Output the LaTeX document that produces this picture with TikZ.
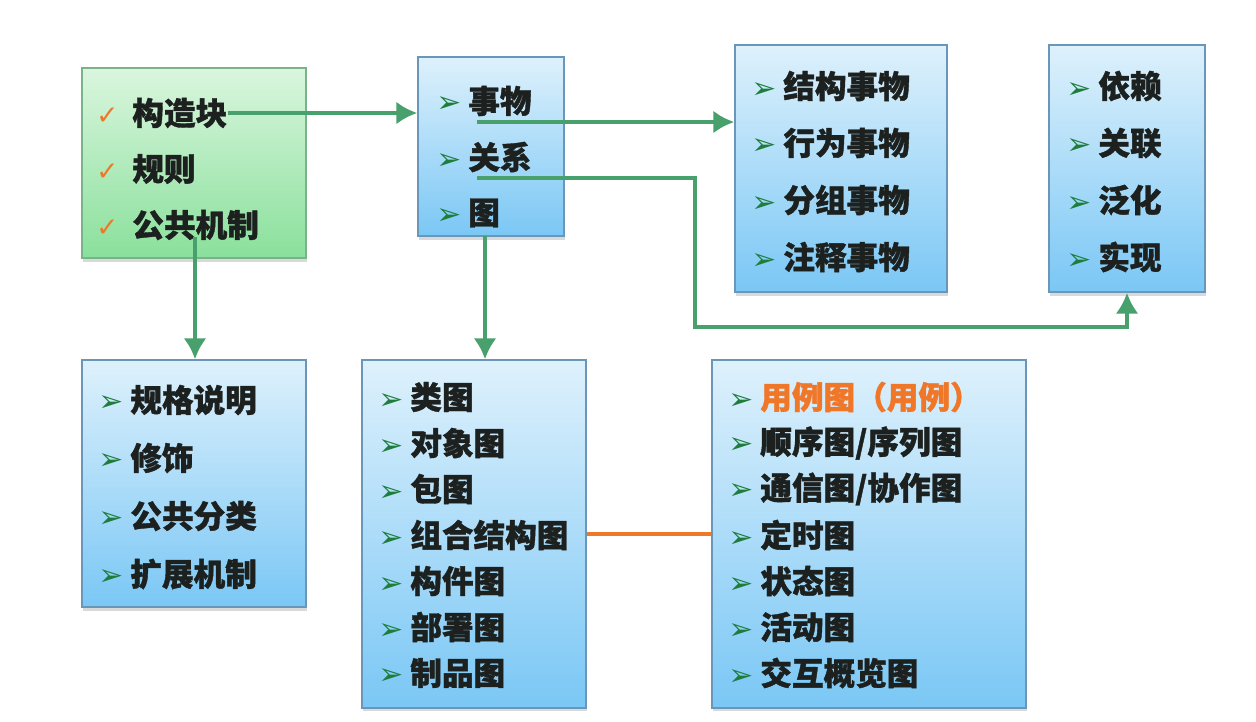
\documentclass[tikz,border=0pt]{standalone}
\usepackage{fontspec}
\newfontfamily\cjk{Noto Sans CJK SC}[BoldFeatures={FakeBold=1.2}]
\newfontfamily\symfont{DejaVu Sans}
\usetikzlibrary{arrows.meta,shadows}
\definecolor{boxtop}{RGB}{222,241,252}
\definecolor{boxbot}{RGB}{122,199,245}
\definecolor{greentop}{RGB}{218,246,222}
\definecolor{greenbot}{RGB}{138,224,156}
\definecolor{boxline}{RGB}{105,150,185}
\definecolor{greenline}{RGB}{120,180,135}
\definecolor{linkgreen}{RGB}{72,160,108}
\definecolor{bulgreen}{RGB}{30,125,60}
\definecolor{hiorange}{RGB}{240,118,40}
\definecolor{txt}{RGB}{28,32,30}
\newcommand{\bul}{\makebox[0.64cm][l]{\symfont\fontsize{17}{17}\selectfont\color{bulgreen}➢}}
\newcommand{\checkmk}{\makebox[0.72cm][l]{\symfont\fontsize{15}{15}\selectfont\color{hiorange}✓}}
\tikzset{
  box/.style={draw=boxline, line width=0.8pt, top color=boxtop, bottom color=boxbot,
    drop shadow={opacity=0.3, shadow xshift=0.5pt, shadow yshift=-2pt}, inner sep=0pt},
  greenbox/.style={box, draw=greenline, top color=greentop, bottom color=greenbot},
  item/.style={anchor=west, inner sep=0pt, font={\cjk\bfseries\fontsize{18}{18}\selectfont}, text=txt},
  arr/.style={draw=linkgreen, line width=2.4pt, -{Latex[length=4.2mm,width=4.6mm]}},
  link/.style={draw=hiorange, line width=2pt}
}

\begin{document}
\begin{tikzpicture}[x=0.02cm, y=-0.02cm]
  \useasboundingbox (0,0) rectangle (1256,721);

  % boxes
  \node[greenbox, minimum width=4.48cm, minimum height=3.8cm] (blocks) at (194,163) {};
  \node[box, minimum width=2.92cm, minimum height=3.58cm] (things) at (491,146.5) {};
  \node[box, minimum width=4.24cm, minimum height=4.94cm] (thingkinds) at (841,168.5) {};
  \node[box, minimum width=3.12cm, minimum height=4.94cm] (relkinds) at (1127,168.5) {};
  \node[box, minimum width=4.48cm, minimum height=4.94cm] (mechs) at (194,483.5) {};
  \node[box, minimum width=4.48cm, minimum height=6.96cm] (structdiag) at (474,534) {};
  \node[box, minimum width=6.28cm, minimum height=6.96cm] (behavdiag) at (869,534) {};

  % items
  \foreach \t [count=\i] in {构造块,规则,公共机制}
    \node[item] (blocks\i) at (96,{113+56*(\i-1)}) {\checkmk\t};
  \foreach \t [count=\i] in {事物,关系,图}
    \node[item] (things\i) at (436,{101+56*(\i-1)}) {\bul\t};
  \foreach \t [count=\i] in {结构事物,行为事物,分组事物,注释事物}
    \node[item] (thingkinds\i) at (751,{86+57*(\i-1)}) {\bul\t};
  \foreach \t [count=\i] in {依赖,关联,泛化,实现}
    \node[item] (relkinds\i) at (1066,{86+57*(\i-1)}) {\bul\t};
  \foreach \t [count=\i] in {规格说明,修饰,公共分类,扩展机制}
    \node[item] (mechs\i) at (98,{400+58*(\i-1)}) {\bul\t};
  \foreach \t [count=\i] in {类图,对象图,包图,组合结构图,构件图,部署图,制品图}
    \node[item] (structdiag\i) at (378,{397+46*(\i-1)}) {\bul\t};
  \node[item, text=hiorange] (behavdiag1) at (728,397) {\bul 用例图（用例）};
  \foreach \t [count=\i from 2] in {顺序图/序列图,通信图/协作图,定时图,状态图,活动图,交互概览图}
    \node[item] (behavdiag\i) at (728,{397+46*(\i-1)}) {\bul\t};

  % connectors
  \coordinate (thingsout) at (477,122);
  \coordinate (relout) at (477,178);
  \coordinate (diagout) at (485,236);
  \coordinate (mechout) at (195,237);
  \draw[arr] (blocks1.east) -- (things.west |- blocks1.east);
  \draw[arr] (thingsout) -- (thingkinds.west |- thingsout);
  \draw[arr] (relout) -| (695,327) -| (relkinds.south);
  \draw[arr] (diagout) -- (structdiag.north -| diagout);
  \draw[arr] (mechout) -- (mechs.north -| mechout);
  \draw[link] (structdiag) -- (behavdiag);
\end{tikzpicture}
\end{document}
